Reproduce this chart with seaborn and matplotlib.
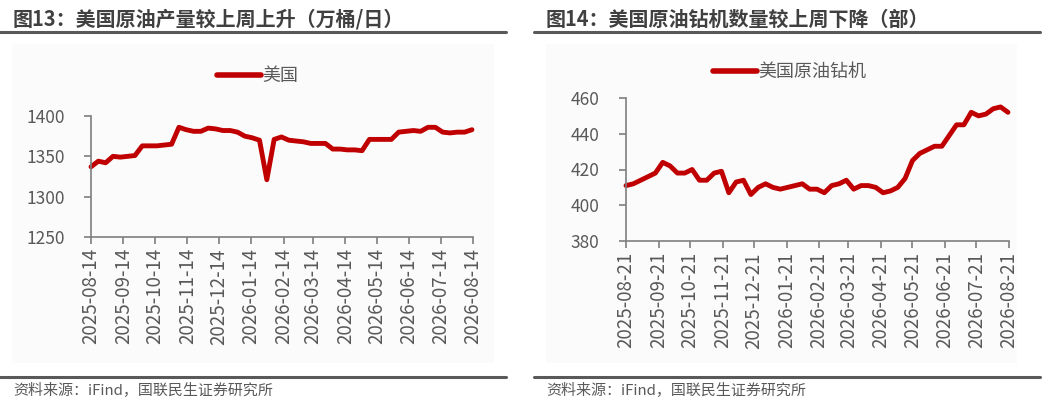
import numpy as np
import pandas as pd
import seaborn as sns
import matplotlib.pyplot as plt
import matplotlib.dates as mdates
from matplotlib.lines import Line2D
from matplotlib.patches import Rectangle

sns.set_style('ticks')
plt.rcParams['font.family'] = ['Noto Sans CJK SC', 'DejaVu Sans']
plt.rcParams['axes.unicode_minus'] = False

# 美国原油产量（万桶/日），周度
prod_start = '2025-08-14'
prod_values = [1337, 1344, 1342, 1350, 1349, 1350, 1351, 1363, 1363, 1363,
               1364, 1365, 1386, 1383, 1381, 1381, 1385, 1384, 1382, 1382,
               1380, 1375, 1373, 1370, 1321, 1371, 1374, 1370, 1369, 1368,
               1366, 1366, 1366, 1359, 1359, 1358, 1358, 1357, 1371, 1371,
               1371, 1371, 1380, 1381, 1382, 1381, 1386, 1386, 1380, 1379,
               1380, 1380, 1383]

# 美国原油钻机数量（部），周度
rig_start = '2025-08-21'
rig_values = [411, 412, 414, 416, 418, 424, 422, 418, 418, 420,
              414, 414, 418, 419, 407, 413, 414, 406, 410, 412,
              410, 409, 410, 411, 412, 409, 409, 407, 411, 412,
              414, 409, 411, 411, 410, 407, 408, 410, 415, 425,
              429, 431, 433, 433, 439, 445, 445, 452, 450, 451,
              454, 455, 452]

titles = ['图13：美国原油产量较上周上升（万桶/日）', '图14：美国原油钻机数量较上周下降（部）']
series_names = ['美国', '美国原油钻机']
source = '资料来源：iFind，国联民生证券研究所'

prod = pd.DataFrame({'date': pd.date_range(prod_start, periods=len(prod_values), freq='7D'),
                     'value': prod_values})
rig = pd.DataFrame({'date': pd.date_range(rig_start, periods=len(rig_values), freq='7D'),
                    'value': rig_values})

red = '#C00000'
grey = '#595959'

fig = plt.figure(figsize=(10.46, 4.09), dpi=100)

# panel backgrounds, rules, titles, source
for x0, w, rx0, rw in [(12, 482, 0, 506), (546, 471, 534, 506)]:
    fig.patches.append(Rectangle((x0 / 1046, 1 - 363 / 409), w / 1046, (363 - 44) / 409,
                                 transform=fig.transFigure, facecolor='#FBFBFB',
                                 edgecolor='none', zorder=-5))
    for yy in (32, 377):
        fig.add_artist(Line2D([rx0 / 1046, (rx0 + rw) / 1046], [1 - yy / 409] * 2,
                              color=grey, lw=2.2))
fig.text(13 / 1046, 1 - 19 / 409, titles[0], fontsize=14.4, fontweight='bold',
         color='#404040', va='center')
fig.text(546 / 1046, 1 - 19 / 409, titles[1], fontsize=14.4, fontweight='bold',
         color='#404040', va='center')
fig.text(13 / 1046, 1 - 391 / 409, source, fontsize=10.8, color=grey, va='center')
fig.text(546 / 1046, 1 - 391 / 409, source, fontsize=10.8, color=grey, va='center')

ax1 = fig.add_axes([91 / 1046, 1 - 237 / 409, (473 - 91) / 1046, (237 - 116) / 409])
ax2 = fig.add_axes([626 / 1046, 1 - 241 / 409, (1009 - 626) / 1046, (241 - 98) / 409])

setups = [
    (ax1, prod, series_names[0], (1250, 1400), [1250, 1300, 1350, 1400],
     ('2025-08-14', '2026-08-14'), 14, (258 / 1046, 1 - 76 / 409)),
    (ax2, rig, series_names[1], (380, 460), [380, 400, 420, 440, 460],
     ('2025-08-21', '2026-08-21'), 21, (790 / 1046, 1 - 72 / 409)),
]

for ax, df, name, ylim, yticks, xlim, mday, legpos in setups:
    ax.set_facecolor('none')
    sns.lineplot(data=df, x='date', y='value', ax=ax, color=red, lw=3.5,
                 label=name, clip_on=False)
    ax.set_ylim(*ylim)
    ax.set_yticks(yticks)
    ax.set_xlim(pd.Timestamp(xlim[0]), pd.Timestamp(xlim[1]))
    ax.xaxis.set_major_locator(mdates.MonthLocator(bymonthday=mday))
    ax.xaxis.set_major_formatter(mdates.DateFormatter('%Y-%m-%d'))
    ax.set_xlabel('')
    ax.set_ylabel('')
    for s in ('top', 'right'):
        ax.spines[s].set_visible(False)
    for s in ('left', 'bottom'):
        ax.spines[s].set_color('#7F7F7F')
        ax.spines[s].set_linewidth(1.2)
    ax.tick_params(axis='y', labelsize=12.5, colors='#7F7F7F', labelcolor=grey,
                   length=5, width=1.2, pad=14)
    ax.tick_params(axis='x', labelsize=13.5, colors='#7F7F7F', labelcolor=grey,
                   length=5, width=1.2, pad=3, labelrotation=90)
    ax.legend(loc='center', bbox_to_anchor=legpos, bbox_transform=fig.transFigure,
              frameon=False, fontsize=13, handlelength=2.4, handletextpad=0.1,
              labelcolor=grey)
    for lh in ax.get_legend().get_lines():
        lh.set_linewidth(4)
        lh.set_solid_capstyle('round')

fig.savefig('out.png', dpi=100)
